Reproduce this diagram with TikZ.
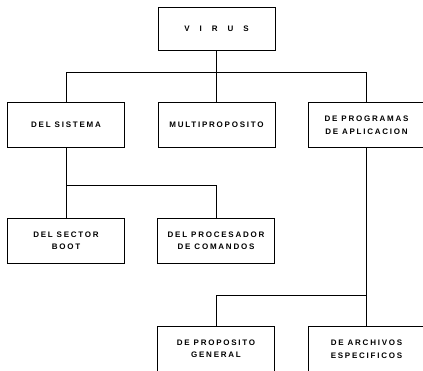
\documentclass[tikz,border=0pt]{standalone}
\usepackage{fontspec}
\setmainfont{Liberation Sans}
\newfontfamily\boxfont[LetterSpace=22]{Liberation Sans Bold}
\newcommand{\wsp}{\hspace{10pt}}
\begin{document}
\begin{tikzpicture}[x=1pt,y=-1pt,
  box/.style={draw,line width=0.8pt,minimum width=117pt,minimum height=45pt,
    inner sep=0pt,align=center,font=\boxfont\fontsize{8}{12.5}\selectfont},
  link/.style={line width=0.8pt}]
\useasboundingbox (0,0) rectangle (423,371);
% level 1
\node[box,minimum height=43pt] (virus) at (216.5,28.5) {V\wsp I\wsp R\wsp U\wsp S};
% level 2
\node[box] (sis)  at (66,124.5)    {DEL SISTEMA};
\node[box] (mult) at (216.5,124.5) {MULTIPROPOSITO};
\node[box] (prog) at (366.5,125)   {DE PROGRAMAS\\DE APLICACION};
% level 3
\node[box] (boot) at (66,240.5)    {DEL SECTOR\\BOOT};
\node[box] (proc) at (216,240.5)   {DEL PROCESADOR\\DE COMANDOS};
% level 4
\node[box] (gen)  at (216,348.5)   {DE PROPOSITO\\GENERAL};
\node[box] (arch) at (366.5,349)   {DE ARCHIVOS\\ESPECIFICOS};
% bus heights
\coordinate (b1) at (0,72);
\coordinate (b2) at (0,185);
\coordinate (b3) at (0,295);
% connectors
\draw[link] (virus.south) -- (mult.north);
\draw[link] (sis.north) -- (sis.north |- b1) -| (prog.north);
\draw[link] (sis.south) -- (sis.south |- b2) -| (proc.north);
\draw[link] (boot.north) -- (boot.north |- b2);
\draw[link] (prog.south) -- (prog.south |- b3) -| (gen.north);
\draw[link] (arch.north) -- (arch.north |- b3);
\end{tikzpicture}
\end{document}
